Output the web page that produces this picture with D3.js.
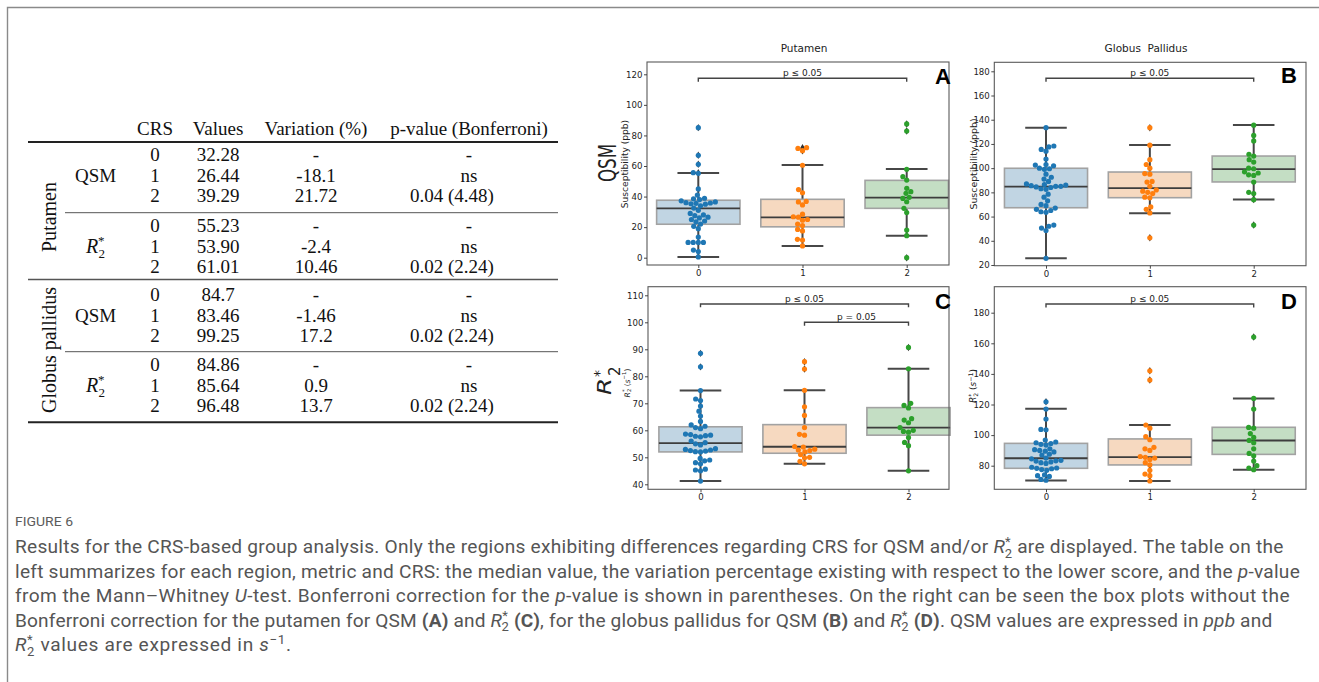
<!DOCTYPE html>
<html><head><meta charset="utf-8">
<script src="https://cdn.jsdelivr.net/npm/d3@7"></script>
<style>body{margin:0;background:#fff} svg{display:block}</style>
</head><body>
<script>
// ---------------- DATA ----------------
const crsLabels = ["0", "1", "2"];
const pointColors = ["#1f77b4", "#ff7f0e", "#2ca02c"];
const boxFills = ["#c1d5e3", "#f6d9c0", "#c4dec4"];

// Panel A: Putamen QSM (ppb)
const putQsm0 = [85.1, 67.0, 61.1, 55.6, 55.2, 45.0, 41.0, 38.9, 38.5, 38.0, 37.2, 36.5, 36.0, 35.8, 35.6, 35.3, 35.0, 34.0, 32.5, 31.0, 29.0, 28.0, 27.5, 26.5, 26.0, 25.0, 24.0, 23.5, 22.0, 20.5, 19.0, 13.5, 10.0, 10.0, 10.0, 10.0, 5.0, 4.0, 0.5];
const putQsm1 = [72.0, 71.5, 70.0, 60.5, 44.6, 42.5, 36.8, 36.5, 34.5, 28.5, 26.8, 26.5, 25.0, 24.5, 22.0, 21.0, 18.5, 17.5, 12.0, 11.5, 7.7];
const putQsm2 = [87.5, 82.9, 57.8, 53.0, 50.8, 45.4, 43.2, 42.1, 39.5, 38.8, 36.6, 32.3, 29.5, 18.1, 14.4, 0.0];
const putQsmBox = [[0.5, 21.9, 32.28, 37.6, 55.4], [7.7, 20.2, 26.44, 38.2, 60.7], [14.4, 32.3, 39.29, 50.6, 58.0]];
const putQsmTicks = [0, 20, 40, 60, 80, 100, 120];
const putQsmSig = [[0, 2, 117.4, "p ≤ 0.05"]];

// Panel B: Globus pallidus QSM (ppb)
const gpQsm0 = [133.4, 118.3, 117.5, 115.5, 114.0, 107.5, 103.0, 102.5, 102.0, 100.0, 99.5, 99.0, 95.0, 92.5, 91.0, 89.0, 87.0, 86.5, 86.0, 85.5, 85.0, 85.0, 84.5, 84.0, 83.0, 82.5, 78.5, 76.0, 73.0, 70.0, 69.0, 67.0, 66.0, 65.0, 64.0, 63.5, 53.0, 52.0, 50.5, 48.5, 25.5];
const gpQsm1 = [133.4, 119.0, 107.0, 103.0, 100.0, 95.5, 95.0, 89.0, 88.5, 85.0, 82.0, 81.0, 80.0, 79.0, 76.0, 75.5, 68.0, 66.0, 63.0, 42.5];
const gpQsm2 = [135.5, 127.0, 122.5, 111.5, 110.0, 107.0, 105.0, 100.0, 99.5, 97.0, 96.0, 94.5, 94.0, 88.5, 80.0, 79.0, 74.0, 53.0];
const gpQsmBox = [[25.5, 67.3, 84.7, 99.9, 133.4], [62.7, 75.6, 83.46, 96.8, 119.1], [74.2, 88.6, 99.25, 110.0, 135.6]];
const gpQsmTicks = [20, 40, 60, 80, 100, 120, 140, 160, 180];
const gpQsmSig = [[0, 2, 174.2, "p ≤ 0.05"]];

// Panel C: Putamen R2* (s^-1)
const putR20 = [88.5, 83.5, 74.7, 71.6, 71.0, 69.0, 67.1, 65.3, 63.3, 62.0, 61.5, 61.0, 60.6, 58.6, 58.4, 58.2, 58.0, 57.8, 57.6, 56.0, 55.4, 55.0, 54.6, 53.2, 52.9, 52.7, 52.5, 52.3, 52.1, 52.0, 49.6, 49.0, 48.7, 48.0, 47.6, 45.6, 45.3, 45.0, 41.2];
const putR21 = [85.4, 82.7, 74.8, 68.7, 65.5, 61.0, 58.5, 58.2, 54.0, 53.8, 53.0, 52.7, 52.5, 52.0, 51.0, 50.0, 49.8, 48.5, 47.6];
const putR22 = [90.7, 82.8, 70.0, 69.2, 68.3, 64.3, 63.8, 62.8, 61.0, 60.0, 59.6, 59.3, 57.3, 55.5, 54.3, 45.0];
const putR2Box = [[41.2, 52.0, 55.23, 61.3, 74.7], [47.6, 51.5, 53.90, 62.1, 74.8], [45.0, 58.2, 61.01, 68.4, 82.8]];
const putR2Ticks = [40, 50, 60, 70, 80, 90, 100, 110];
const putR2Sig = [[0, 2, 106.8, "p ≤ 0.05"], [1, 2, 100.0, "p = 0.05"]];

// Panel D: Globus pallidus R2* (s^-1)
const gpR20 = [121.8, 117.0, 110.5, 103.7, 103.5, 96.8, 95.5, 95.0, 94.5, 94.0, 93.5, 91.0, 90.5, 90.0, 89.5, 89.0, 87.5, 87.0, 85.0, 84.5, 83.5, 83.2, 83.0, 82.5, 82.0, 81.5, 79.0, 78.5, 78.3, 78.0, 77.5, 77.0, 74.0, 73.5, 73.0, 71.0, 70.5];
const gpR21 = [142.0, 136.0, 106.6, 104.5, 99.0, 97.0, 92.0, 91.0, 90.0, 86.0, 85.5, 85.0, 84.0, 82.0, 80.5, 77.0, 74.5, 73.5, 70.0];
const gpR22 = [164.1, 124.0, 117.0, 105.0, 104.5, 101.0, 98.5, 96.5, 95.0, 91.0, 88.0, 86.5, 83.0, 80.0, 78.5, 77.4];
const gpR2Box = [[70.4, 78.3, 84.86, 94.6, 117.3], [70.0, 80.5, 85.64, 97.5, 106.6], [77.4, 87.4, 96.48, 105.1, 124.0]];
const gpR2Ticks = [80, 100, 120, 140, 160, 180];
const gpR2Sig = [[0, 2, 185.7, "p ≤ 0.05"]];

// Table
const tableHeaders = ["CRS", "Values", "Variation (%)", "p-value (Bonferroni)"];
const tableRegions = ["Putamen", "Globus pallidus"];
const tableMetrics = ["QSM", "R2*", "QSM", "R2*"];
const tableCrs = ["0", "1", "2"];
const tableValues = ["32.28", "26.44", "39.29", "55.23", "53.90", "61.01", "84.7", "83.46", "99.25", "84.86", "85.64", "96.48"];
const tableVariation = ["-", "-18.1", "21.72", "-", "-2.4", "10.46", "-", "-1.46", "17.2", "-", "0.9", "13.7"];
const tablePvalue = ["-", "ns", "0.04 (4.48)", "-", "ns", "0.02 (2.24)", "-", "ns", "0.02 (2.24)", "-", "ns", "0.02 (2.24)"];

// Caption
const captionTitle = "FIGURE 6";
const captionLines = [
  [["Results for the CRS-based group analysis. Only the regions exhibiting differences regarding CRS for QSM and/or "], ["", "R2"], [" are displayed. The table on the"]],
  [["left summarizes for each region, metric and CRS: the median value, the variation percentage existing with respect to the lower score, and the "], ["p", "i"], ["-value"]],
  [["from the Mann–Whitney "], ["U", "i"], ["-test. Bonferroni correction for the "], ["p", "i"], ["-value is shown in parentheses. On the right can be seen the box plots without the"]],
  [["Bonferroni correction for the putamen for QSM "], ["(A)", "b"], [" and "], ["", "R2"], [" "], ["(C)", "b"], [", for the globus pallidus for QSM "], ["(B)", "b"], [" and "], ["", "R2"], [" "], ["(D)", "b"], [". QSM values are expressed in "], ["ppb", "i"], [" and"]],
  [["", "R2"], [" values are expressed in "], ["s", "i"], ["−1", "sup"], ["."]]
];

// ---------------- DRAW ----------------
const W = 1319, H = 682;
const svg = d3.select("body").append("svg").attr("width", W).attr("height", H);

// figure border (top + left)
svg.append("path").attr("d", "M7.5,682 V7.5 H1319").attr("fill", "none")
  .attr("stroke", "#8a8a8a").attr("stroke-width", 1.4);

// rich text helper
function rich(textSel, segs, fs) {
  let cur = 0;
  segs.forEach(([t, st]) => {
    if (st === "R2") {
      const a = textSel.append("tspan").attr("font-style", "italic").text("R");
      if (cur !== 0) { a.attr("dy", -cur); cur = 0; }
      textSel.append("tspan").attr("font-size", fs * 0.68).attr("dy", -fs * 0.36).text("*");
      textSel.append("tspan").attr("font-size", fs * 0.68).attr("dx", -fs * 0.33).attr("dy", fs * 0.36 + fs * 0.24).text("2");
      cur = fs * 0.24;
    } else {
      const want = st === "sup" ? -fs * 0.38 : 0;
      const ts = textSel.append("tspan").text(t);
      if (st === "i") ts.attr("font-style", "italic");
      if (st === "b") ts.attr("font-weight", "bold");
      if (st === "sup") ts.attr("font-size", fs * 0.7);
      if (want - cur !== 0) ts.attr("dy", want - cur);
      cur = want;
    }
  });
}

// ---------------- TABLE ----------------
const tbl = svg.append("g").attr("font-family", "'Liberation Serif', 'Times New Roman', serif")
  .attr("font-size", 19).attr("fill", "#111");
const colX = [155, 218, 316, 469];
tableHeaders.forEach((h, i) => tbl.append("text").attr("x", colX[i]).attr("y", 134.5)
  .attr("text-anchor", "middle").text(h));
const ruleDefs = [[142, 28, 2], [212.7, 65, 1], [279.5, 28, 1.3], [351.7, 65, 1], [422.3, 28, 2]];
ruleDefs.forEach(([y, x0, w]) => tbl.append("line").attr("x1", x0).attr("x2", 558)
  .attr("y1", y).attr("y2", y).attr("stroke", w > 1.5 ? "#222" : "#555").attr("stroke-width", w));
const groupCenters = [175, 246, 315, 385];
const rowOff = [-20.3, 0, 20.7];
tableMetrics.forEach((m, g) => {
  const t = tbl.append("text").attr("x", 95.5).attr("y", groupCenters[g] + 6.6).attr("text-anchor", "middle");
  if (m === "QSM") t.text("QSM");
  else {
    t.append("tspan").attr("font-style", "italic").attr("font-size", 20).text("R");
    t.append("tspan").attr("font-size", 13).attr("dy", -8).text("*");
    t.append("tspan").attr("font-size", 13).attr("dx", -6).attr("dy", 13).text("2");
  }
  tableCrs.forEach((c, r) => {
    const k = g * 3 + r;
    const y = groupCenters[g] + rowOff[r] + 6.6;
    tbl.append("text").attr("x", colX[0]).attr("y", y).attr("text-anchor", "middle").text(c);
    tbl.append("text").attr("x", colX[1]).attr("y", y).attr("text-anchor", "middle").text(tableValues[k]);
    tbl.append("text").attr("x", colX[2]).attr("y", y).attr("text-anchor", "middle").text(tableVariation[k]);
    const pv = tablePvalue[k];
    tbl.append("text").attr("x", pv.length > 2 ? colX[3] - 17 : colX[3]).attr("y", y)
      .attr("text-anchor", "middle").text(pv);
  });
});
const regionY = [217, 350];
tableRegions.forEach((r, i) => tbl.append("text")
  .attr("transform", `translate(49,${regionY[i]}) rotate(-90)`)
  .attr("text-anchor", "middle").attr("dominant-baseline", "central").attr("font-size", 20).text(r));

// ---------------- PANELS ----------------
function swarmLayout(vals, y, d) {
  const pts = vals.map(v => ({ v, py: y(v), x: 0 })).sort((a, b) => b.py - a.py);
  const placed = [];
  pts.forEach(p => {
    const nb = placed.filter(q => Math.abs(q.py - p.py) < d);
    const cands = [0];
    nb.forEach(q => { const dx = Math.sqrt(d * d - (q.py - p.py) ** 2); cands.push(q.x + dx, q.x - dx); });
    cands.sort((a, b) => Math.abs(a) - Math.abs(b) || a - b);
    for (const c of cands) {
      if (nb.every(q => (q.x - c) ** 2 + (q.py - p.py) ** 2 >= d * d - 0.01)) { p.x = c; break; }
    }
    placed.push(p);
  });
  return pts;
}

const panels = [
  { pts: [putQsm0, putQsm1, putQsm2], box: putQsmBox, ticks: putQsmTicks, sig: putQsmSig,
    yd: [0, 120], yr: [257.7, 74.3], frame: [647, 949, 62, 265], cx: [698.3, 906.7], letter: "A", lp: [951, 83.5] },
  { pts: [gpQsm0, gpQsm1, gpQsm2], box: gpQsmBox, ticks: gpQsmTicks, sig: gpQsmSig,
    yd: [20, 180], yr: [265, 71.3], frame: [994.3, 1306, 62.3, 265.7], cx: [1046, 1253.7], letter: "B", lp: [1297, 83] },
  { pts: [putR20, putR21, putR22], box: putR2Box, ticks: putR2Ticks, sig: putR2Sig,
    yd: [40, 110], yr: [484.3, 295.3], frame: [648, 949, 286.7, 489.3], cx: [700.5, 908.5], letter: "C", lp: [951, 308.5] },
  { pts: [gpR20, gpR21, gpR22], box: gpR2Box, ticks: gpR2Ticks, sig: gpR2Sig,
    yd: [80, 180], yr: [465.7, 312.7], frame: [994.3, 1306, 286.7, 489.3], cx: [1046, 1253.7], letter: "D", lp: [1297, 308.5] }
];

const darkLine = "#474747";
panels.forEach(p => {
  const g = svg.append("g");
  const x = d3.scaleLinear().domain([0, 2]).range(p.cx);
  const y = d3.scaleLinear().domain(p.yd).range(p.yr);
  const step = (p.cx[1] - p.cx[0]) / 2;
  const [fx0, fx1, fy0, fy1] = p.frame;

  // boxes
  p.box.forEach((b, i) => {
    const c = x(i), hw = step * 0.4, cw = step * 0.2;
    const [lo, q1, med, q3, hi] = b;
    g.append("line").attr("x1", c).attr("x2", c).attr("y1", y(q3)).attr("y2", y(hi)).attr("stroke", darkLine).attr("stroke-width", 2);
    g.append("line").attr("x1", c).attr("x2", c).attr("y1", y(q1)).attr("y2", y(lo)).attr("stroke", darkLine).attr("stroke-width", 2);
    g.append("line").attr("x1", c - cw).attr("x2", c + cw).attr("y1", y(hi)).attr("y2", y(hi)).attr("stroke", darkLine).attr("stroke-width", 2);
    g.append("line").attr("x1", c - cw).attr("x2", c + cw).attr("y1", y(lo)).attr("y2", y(lo)).attr("stroke", darkLine).attr("stroke-width", 2);
    g.append("rect").attr("x", c - hw).attr("width", 2 * hw).attr("y", y(q3)).attr("height", y(q1) - y(q3))
      .attr("fill", boxFills[i]).attr("stroke", "#a2a2a2").attr("stroke-width", 1.6);
    g.append("line").attr("x1", c - hw).attr("x2", c + hw).attr("y1", y(med)).attr("y2", y(med)).attr("stroke", "#3d3d3d").attr("stroke-width", 1.8);
    // fliers
    p.pts[i].filter(v => v < lo - 0.05 || v > hi + 0.05).forEach(v => {
      g.append("path").attr("d", d3.symbol(d3.symbolDiamond, 16)()).attr("transform", `translate(${c},${y(v)})`)
        .attr("fill", "#333");
    });
  });

  // swarm points
  p.pts.forEach((vals, i) => {
    const lay = swarmLayout(vals, y, 5.1);
    g.selectAll(null).data(lay).enter().append("circle")
      .attr("cx", d => x(i) + d.x).attr("cy", d => d.py).attr("r", 2.6).attr("fill", pointColors[i]);
  });

  // frame
  g.append("rect").attr("x", fx0).attr("y", fy0).attr("width", fx1 - fx0).attr("height", fy1 - fy0)
    .attr("fill", "none").attr("stroke", "#5a5a5a").attr("stroke-width", 1.1);

  // axes
  const ya = g.append("g").attr("transform", `translate(${fx0},0)`)
    .call(d3.axisLeft(y).tickValues(p.ticks).tickSize(3).tickPadding(1.5));
  const xa = g.append("g").attr("transform", `translate(0,${fy1})`)
    .call(d3.axisBottom(x).tickValues([0, 1, 2]).tickFormat(d => crsLabels[d]).tickSize(3).tickPadding(2));
  [ya, xa].forEach(a => {
    a.select(".domain").remove();
    a.attr("font-family", "'DejaVu Sans', sans-serif").attr("font-size", 8.6);
    a.selectAll("line").attr("stroke", "#333").attr("stroke-width", 0.9);
    a.selectAll("text").attr("fill", "#222");
  });

  // significance brackets
  p.sig.forEach(([a, b, v, lab]) => {
    const yy = y(v);
    g.append("path").attr("d", `M${x(a)},${yy + 3.4} V${yy} H${x(b)} V${yy + 3.4}`)
      .attr("fill", "none").attr("stroke", "#444").attr("stroke-width", 1.4);
    g.append("text").attr("x", (x(a) + x(b)) / 2).attr("y", yy - 2.2).attr("text-anchor", "middle")
      .attr("font-family", "'DejaVu Sans', sans-serif").attr("font-size", 9).attr("fill", "#222").text(lab);
  });

  // panel letter
  g.append("text").attr("x", p.lp[0]).attr("y", p.lp[1]).attr("text-anchor", "end")
    .attr("font-family", "'Liberation Sans', Arial, sans-serif").attr("font-weight", "bold")
    .attr("font-size", 22).attr("fill", "#000").text(p.letter);
});

// column titles
const colTitles = [["Putamen", 804], ["Globus  Pallidus", 1146]];
colTitles.forEach(([t, xx]) => svg.append("text").attr("x", xx).attr("y", 52).attr("text-anchor", "middle")
  .attr("font-family", "'DejaVu Sans', sans-serif").attr("font-size", 10.5).attr("fill", "#222")
  .attr("xml:space", "preserve").style("white-space", "pre").text(t));

// y axis labels
function rotLabel(xx, yy, fs) {
  return svg.append("text").attr("transform", `translate(${xx},${yy}) rotate(-90)`)
    .attr("text-anchor", "middle").attr("dominant-baseline", "central")
    .attr("font-family", "'DejaVu Sans', sans-serif").attr("font-size", fs).attr("fill", "#222");
}
rotLabel(608, 163, 24).attr("textLength", 38).attr("lengthAdjust", "spacingAndGlyphs").text("QSM");
rotLabel(625, 164, 9.1).text("Susceptibility (ppb)");
rotLabel(973, 164, 9.4).text("Susceptibility (ppb)");
// big R2* label for panel C
{
  const g = svg.append("g").attr("transform", "translate(605,380) rotate(-90)")
    .attr("font-family", "'DejaVu Sans', sans-serif").attr("fill", "#222");
  g.append("text").attr("x", -15).attr("y", 6).attr("font-size", 19).attr("font-style", "italic")
    .attr("textLength", 17).attr("lengthAdjust", "spacingAndGlyphs").text("R");
  g.append("text").attr("x", 3).attr("y", -1).attr("font-size", 14).text("*");
  g.append("text").attr("x", 4).attr("y", 15).attr("font-size", 15).text("2");
}
function r2Unit(xx, yy, fs) {
  const t = rotLabel(xx, yy, fs);
  rich(t, [["", "R2"], [" ("], ["s", "i"], ["−1", "sup"], [")"]], fs);
}
r2Unit(627, 383, 7.6);
r2Unit(973, 386, 9);

// ---------------- CAPTION ----------------
const cap = svg.append("g").attr("font-family", "Roboto, 'Open Sans', sans-serif").attr("fill", "#555");
cap.append("text").attr("x", 15).attr("y", 526).attr("font-size", 12).attr("fill", "#5c5c5c")
  .attr("textLength", 58).attr("lengthAdjust", "spacingAndGlyphs").text(captionTitle);
const capTargets = [1290, 1300, 1290, 1285, 298];
const capBase = [553, 577.5, 602, 626.5, 651];
const fs0 = 16;
const probe = captionLines.map((segs, i) => {
  const t = cap.append("text").attr("x", 15).attr("y", capBase[i]).attr("font-size", fs0);
  rich(t, segs, fs0);
  return t;
});
let ratio = 0;
for (let i = 0; i < 4; i++) ratio += (capTargets[i] - 15) / probe[i].node().getComputedTextLength();
ratio /= 4;
probe.forEach(t => t.remove());
const fs1 = fs0 * ratio * 0.97;
captionLines.forEach((segs, i) => {
  const t = cap.append("text").attr("x", 15).attr("y", capBase[i]).attr("font-size", fs1);
  rich(t, segs, fs1);
  const w = t.node().getComputedTextLength();
  const n = t.text().length;
  const ls = Math.max(-0.5, Math.min(0.9, ((capTargets[i] - 15) - w) / n));
  t.attr("letter-spacing", ls.toFixed(3));
});
</script>
</body></html>
